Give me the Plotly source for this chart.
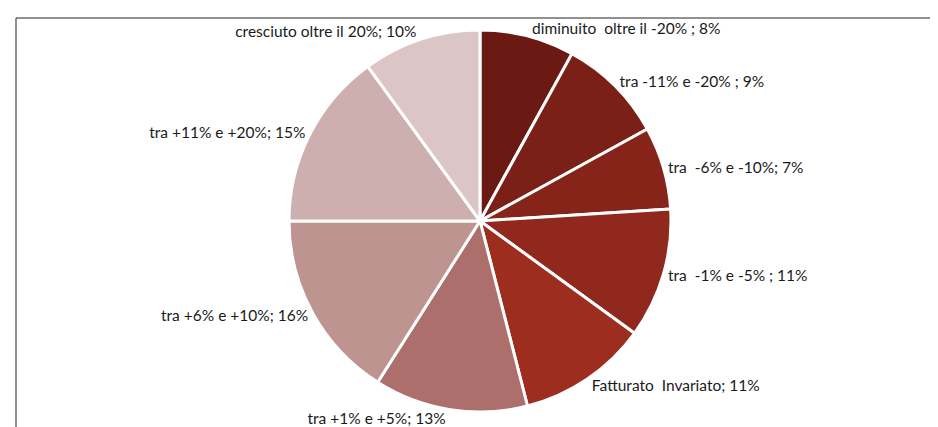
import plotly.graph_objects as go

LABELS = [
    "diminuito  oltre il -20% ",
    "tra -11% e -20% ",
    "tra  -6% e -10%",
    "tra  -1% e -5% ",
    "Fatturato  Invariato",
    "tra +1% e +5%",
    "tra +6% e +10%",
    "tra +11% e +20%",
    "cresciuto oltre il 20%",
]
VALUES = [8, 9, 7, 11, 11, 13, 16, 15, 10]
COLORS = [
    "#6a1a12", "#7b2016", "#86241a", "#91281d", "#9c2d1f",
    "#ac6f6b", "#be9491", "#cdafaf", "#dbc6c5",
]

W, H = 938, 427
# domain tuned so the drawn pie lands at centre (~480, 220), radius ~189
cx, cy, r = 472, 213, 191

fig = go.Figure(
    go.Pie(
        labels=LABELS,
        values=VALUES,
        sort=False,
        direction="clockwise",
        rotation=0,
        marker=dict(colors=COLORS, line=dict(color="white", width=3)),
        texttemplate="%{label}; %{value}%",
        textposition="outside",
        outsidetextfont=dict(family="Lato, sans-serif", size=15.5, color="#1a1a1a"),
        showlegend=False,
        hoverinfo="label+value",
        domain=dict(x=[(cx - r) / W, (cx + r) / W], y=[(H - cy - r) / H, (H - cy + r) / H]),
    )
)

fig.add_shape(
    type="rect", xref="paper", yref="paper",
    x0=8 / W, x1=1.02, y0=-0.02, y1=1 - 10 / H,
    line=dict(color="#222222", width=1),
)

fig.update_layout(
    width=W, height=H,
    margin=dict(l=0, r=0, t=0, b=0),
    paper_bgcolor="white",
    plot_bgcolor="white",
    font=dict(family="Lato, sans-serif"),
)

fig.write_html("out.html")
